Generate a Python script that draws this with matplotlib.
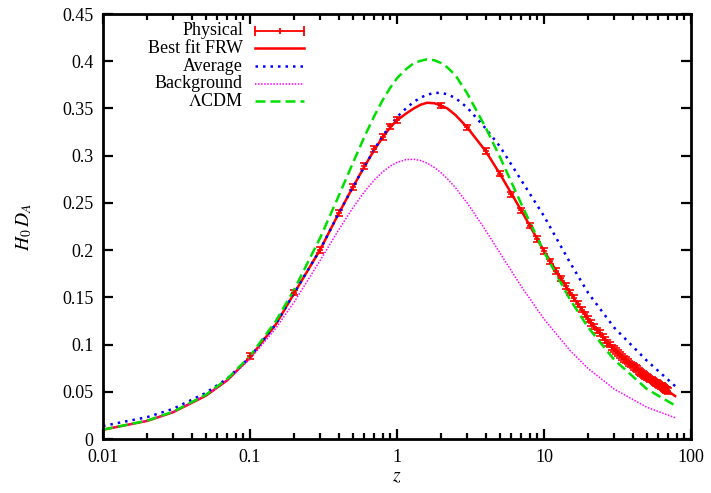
import numpy as np
import matplotlib
matplotlib.use("Agg")
import matplotlib.pyplot as plt
from matplotlib.ticker import FuncFormatter, LogLocator, NullFormatter

plt.rcParams['font.family'] = ['Liberation Serif', 'DejaVu Serif']
plt.rcParams['mathtext.fontset'] = 'stix'

# redshift grid for the curves
z_curve = [0.01, 0.02, 0.03, 0.05, 0.07, 0.1, 0.15, 0.2, 0.3, 0.4, 0.5, 0.6, 0.7, 0.8, 0.9,
           1.0, 1.15, 1.3, 1.45, 1.6, 1.8, 2.0, 2.2, 2.5, 3, 4, 5, 7, 10, 15, 20, 30, 50, 78]

best_fit = [0.0099, 0.0192, 0.0284, 0.0458, 0.0622, 0.0864, 0.1215, 0.1545, 0.2005, 0.2385,
            0.2665, 0.2885, 0.3060, 0.3195, 0.3300, 0.3375, 0.3445, 0.3500, 0.3540, 0.3560,
            0.3555, 0.3530, 0.3500, 0.3430, 0.3300, 0.3050, 0.2810, 0.2420, 0.1990, 0.1550,
            0.1270, 0.0950, 0.0660, 0.0455]

average = [0.0138, 0.0232, 0.0320, 0.0488, 0.0640, 0.0868, 0.1218, 0.1548, 0.2005, 0.2385,
           0.2665, 0.2885, 0.3065, 0.3210, 0.3320, 0.3410, 0.3500, 0.3570, 0.3615, 0.3645,
           0.3665, 0.3665, 0.3650, 0.3610, 0.3510, 0.3290, 0.3100, 0.2740, 0.2360, 0.1870,
           0.1545, 0.1180, 0.0830, 0.0560]

background = [0.0098, 0.0193, 0.0285, 0.0459, 0.0622, 0.0846, 0.1174, 0.1452, 0.1891, 0.2212,
              0.2447, 0.2618, 0.2742, 0.2829, 0.2890, 0.2929, 0.2958, 0.2962, 0.2948, 0.2922,
              0.2874, 0.2818, 0.2756, 0.2660, 0.2500, 0.2211, 0.1973, 0.1616, 0.1270, 0.0938,
              0.0745, 0.0529, 0.0337, 0.0225]

lcdm = [0.0099, 0.0195, 0.0289, 0.0468, 0.0637, 0.0878, 0.1250, 0.1585, 0.2130, 0.2570,
        0.2920, 0.3200, 0.3420, 0.3590, 0.3720, 0.3820, 0.3915, 0.3980, 0.4005, 0.4020,
        0.4010, 0.3980, 0.3935, 0.3850, 0.3660, 0.3300, 0.2990, 0.2490, 0.1980, 0.1480,
        0.1180, 0.0840, 0.0530, 0.0355]

# "physical" data points with error bars
z_phys = [0.1, 0.2, 0.3, 0.4, 0.5, 0.6, 0.7, 0.8, 0.9, 1.0] + list(range(2, 71))
d_phys = [0.088, 0.155, 0.200, 0.239, 0.267, 0.289, 0.307, 0.320, 0.331, 0.338,
          0.353, 0.330, 0.305, 0.281, 0.259, 0.242, 0.226, 0.212, 0.199, 0.188,
          0.178, 0.170, 0.162, 0.155, 0.149, 0.143, 0.137, 0.132, 0.127, 0.123,
          0.119, 0.115, 0.112, 0.108, 0.105, 0.102, 0.100, 0.097, 0.095, 0.093,
          0.091, 0.089, 0.087, 0.085, 0.084, 0.082, 0.080, 0.079, 0.078, 0.076,
          0.075, 0.074, 0.072, 0.071, 0.070, 0.069, 0.068, 0.067, 0.066, 0.065,
          0.064, 0.063, 0.063, 0.062, 0.061, 0.060, 0.059, 0.059, 0.058, 0.057,
          0.056, 0.056, 0.055, 0.054, 0.054, 0.053, 0.052, 0.052, 0.051]
err_phys = [0.003] * len(z_phys)

labels = ["Physical", "Best fit FRW", "Average", "Background", r"$\Lambda$CDM"]

red = '#ff0000'
blue = '#0000ff'
magenta = '#ff00ff'
green = '#00e000'

fig = plt.figure(figsize=(7.11, 4.93), dpi=100)
ax = fig.add_axes([0.1449, 0.1095, 0.8270, 0.8621])

ax.errorbar(z_phys, d_phys, yerr=err_phys, fmt='+', color=red, ms=5, mew=1.2,
            elinewidth=1.3, capsize=3, capthick=1.3)
ax.plot(z_curve, best_fit, color=red, lw=1.8)
ax.plot(z_curve, average, color=blue, lw=1.8, ls=(0, (1, 2)))
ax.plot(z_curve, background, color=magenta, lw=1.1, ls=(0, (1, 1)))
ax.plot(z_curve, lcdm, color=green, lw=1.8, ls=(0, (4, 2)))

ax.set_xscale('log')
ax.set_xlim(0.01, 100)
ax.set_ylim(0, 0.45)
ax.set_xticks([0.01, 0.1, 1, 10, 100])
ax.xaxis.set_minor_locator(LogLocator(base=10, subs=np.arange(2, 10)))
ax.xaxis.set_minor_formatter(NullFormatter())
ax.set_yticks(np.arange(0, 0.451, 0.05))
fmt = FuncFormatter(lambda v, p: '%g' % round(v, 4))
ax.xaxis.set_major_formatter(fmt)
ax.yaxis.set_major_formatter(fmt)

ax.tick_params(which='both', direction='in', top=True, right=True, width=1.6, labelsize=13)
ax.tick_params(which='major', length=7)
ax.tick_params(which='minor', length=4)
ax.tick_params(axis='x', pad=7)
ax.tick_params(axis='y', pad=7)
for s in ax.spines.values():
    s.set_linewidth(2)

ax.set_xlabel(r'$z$', fontsize=14, labelpad=2)
ax.set_ylabel(r'$H_0\,D_A$', fontsize=14, labelpad=20)

# gnuplot-style key: right aligned text, sample on the right
key_y = [0.9607, 0.9193, 0.8776, 0.8362, 0.7948]
tx, s0, s1 = 0.238, 0.2585, 0.3418
styles = [dict(color=red, lw=1.3), dict(color=red, lw=1.8),
          dict(color=blue, lw=1.8, ls=(0, (1, 2))),
          dict(color=magenta, lw=1.1, ls=(0, (1, 1))),
          dict(color=green, lw=1.8, ls=(0, (4, 2)))]
for i, (lab, st, yy) in enumerate(zip(labels, styles, key_y)):
    ax.text(tx, yy, lab, transform=ax.transAxes, ha='right', va='center', fontsize=13)
    ax.plot([s0, s1], [yy, yy], transform=ax.transAxes, **st)
    if i == 0:
        ax.plot([s0, s1], [yy, yy], transform=ax.transAxes, ls='none', marker='|',
                ms=7, mew=1.3, color=red)
        ax.plot([(s0 + s1) / 2], [yy], transform=ax.transAxes, ls='none', marker='|',
                ms=5, mew=1.3, color=red)

fig.savefig('out.png', dpi=100)
